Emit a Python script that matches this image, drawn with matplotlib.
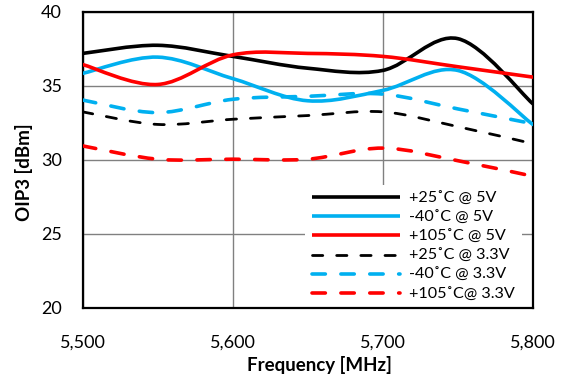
import matplotlib.pyplot as plt
import numpy as np
from matplotlib.path import Path
from matplotlib.patches import PathPatch
from matplotlib.lines import Line2D

plt.rcParams['font.family'] = ['Lato', 'DejaVu Sans']

freq = [5500, 5550, 5600, 5650, 5700, 5750, 5800]

t25_5v = [37.2, 37.75, 37.0, 36.2, 36.05, 38.2, 33.8]
m40_5v = [35.85, 36.95, 35.5, 34.0, 34.7, 36.05, 32.4]
t105_5v = [36.45, 35.1, 37.1, 37.2, 37.0, 36.3, 35.6]
t25_33v = [33.25, 32.4, 32.75, 33.0, 33.25, 32.25, 31.1]
m40_33v = [34.05, 33.2, 34.1, 34.3, 34.45, 33.45, 32.45]
t105_33v = [30.95, 30.05, 30.05, 30.05, 30.8, 29.95, 28.9]

labels = ['+25˚C @ 5V', '-40˚C @ 5V', '+105˚C @ 5V',
          '+25˚C @ 3.3V', '-40˚C @ 3.3V', '+105˚C@ 3.3V']

CYAN = '#00B0F0'
RED = '#FF0000'


def smooth_path(x, y):
    # excel-like smoothed line: cubic bezier through every point
    p = np.column_stack([x, y]).astype(float)
    n = len(p)
    verts = [p[0]]
    codes = [Path.MOVETO]
    for i in range(n - 1):
        p0 = p[i - 1] if i > 0 else p[i]
        p3 = p[i + 2] if i + 2 < n else p[i + 1]
        c1 = p[i] + (p[i + 1] - p0) / 6
        c2 = p[i + 1] - (p3 - p[i]) / 6
        verts += [c1, c2, p[i + 1]]
        codes += [Path.CURVE4] * 3
    return Path(verts, codes)


fig = plt.figure(figsize=(5.62, 3.75), dpi=100)
ax = fig.add_axes([0.147, 0.179, 0.801, 0.789])

series = [
    (t25_5v, 'black', 2.6, None),
    (m40_5v, CYAN, 2.6, None),
    (t105_5v, RED, 2.6, None),
    (t25_33v, 'black', 2.0, (3.7, 5.0)),
    (m40_33v, CYAN, 2.6, (3.7, 4.3)),
    (t105_33v, RED, 2.6, (3.7, 4.3)),
]

handles = []
for (vals, col, lw, dash), lab in zip(series, labels):
    patch = PathPatch(smooth_path(freq, vals), facecolor='none', edgecolor=col,
                      lw=lw, capstyle='round', joinstyle='round', zorder=3)
    if dash:
        patch.set_linestyle((0, dash))
    ax.add_patch(patch)
    h = Line2D([], [], color=col, lw=lw, solid_capstyle='butt',
               dash_capstyle='round', label=lab)
    if dash:
        h.set_dashes(dash)
    handles.append(h)

ax.set_xlim(5500, 5800)
ax.set_ylim(20, 40)
ax.set_xticks([5500, 5600, 5700, 5800])
ax.set_yticks([20, 25, 30, 35, 40])
ax.xaxis.set_major_formatter(plt.FuncFormatter(lambda v, p: f'{int(v):,}'))
ax.tick_params(length=0, labelsize=13)
ax.tick_params(axis='x', pad=19)
ax.tick_params(axis='y', pad=15)
ax.grid(True, color='#808080', lw=1.0)
ax.set_axisbelow(True)
for s in ax.spines.values():
    s.set_linewidth(1.6)

ax.set_xlabel('Frequency [MHz]', fontsize=13.5, fontweight='bold', va='center')
ax.set_ylabel('OIP3 [dBm]', fontsize=13.5, fontweight='bold', va='center')
ax.xaxis.set_label_coords(0.526, -0.194)
ax.yaxis.set_label_coords(-0.130, 0.459)

leg = ax.legend(handles=handles, loc='lower right', bbox_to_anchor=(0.975, 0.0),
                borderaxespad=0, fontsize=11.6, handlelength=5.5, handletextpad=0.55,
                labelspacing=0.3, frameon=True, fancybox=False, framealpha=1,
                edgecolor='none', facecolor='white', borderpad=0.4)
leg.set_zorder(2.4)  # above grid, below spines

fig.savefig('out.png', dpi=100)
